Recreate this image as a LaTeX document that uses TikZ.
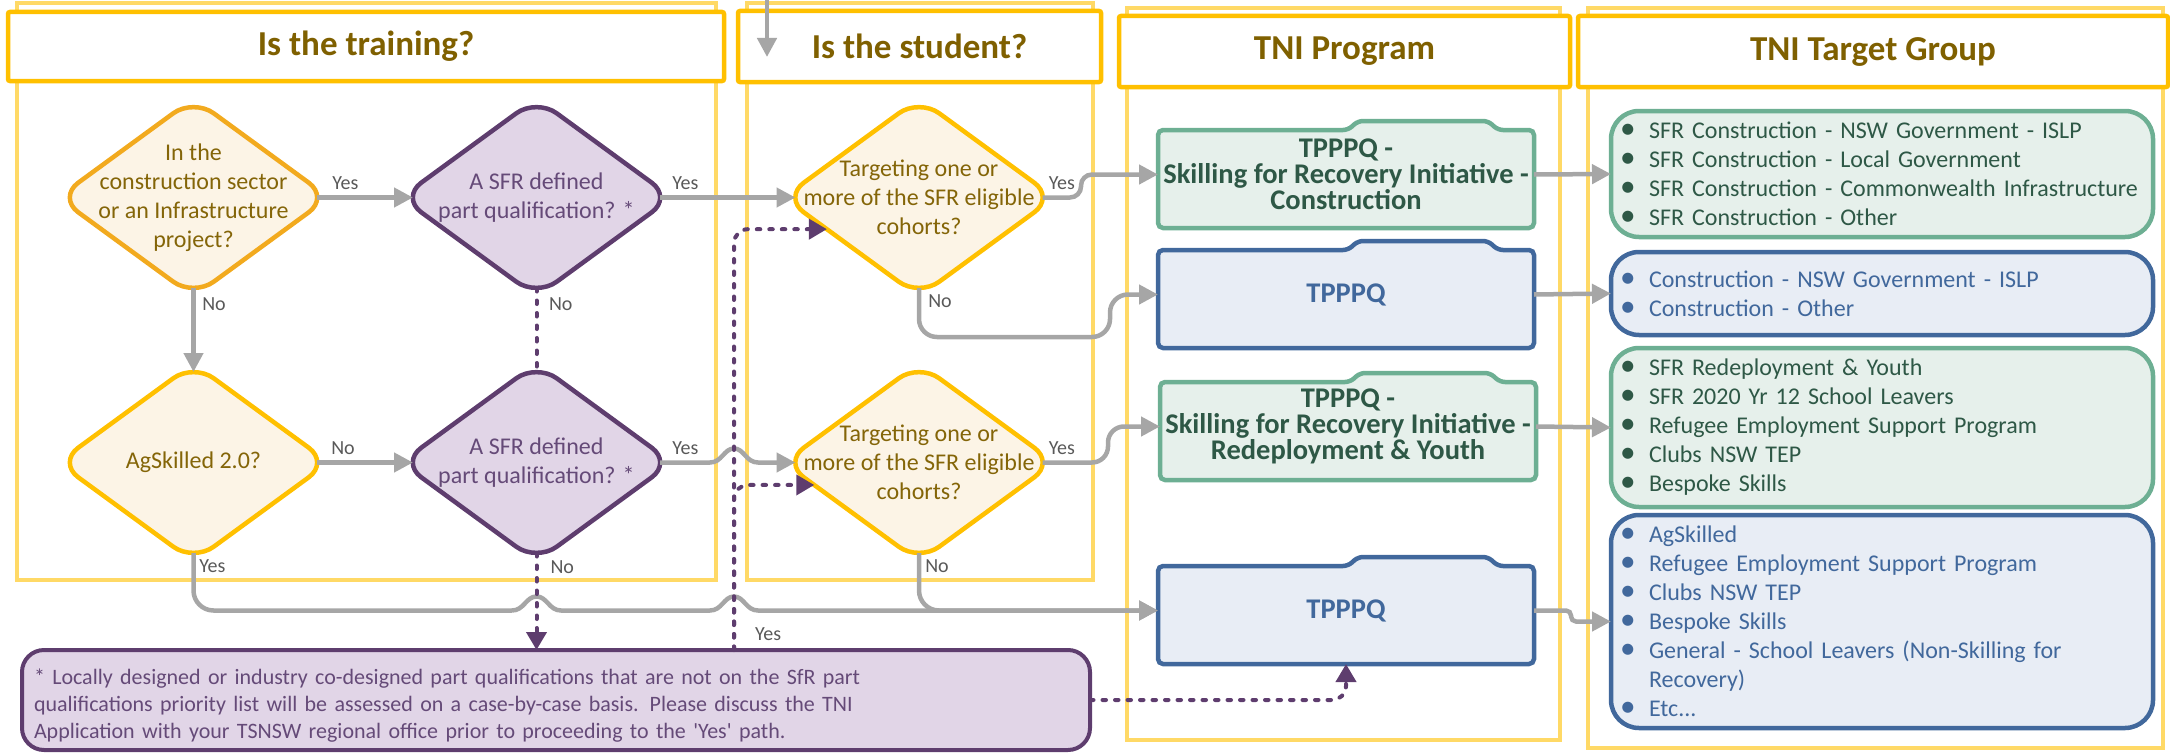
\documentclass[tikz,border=0pt]{standalone}
\usepackage{fontspec}
\setmainfont{Carlito}
\usepackage{graphicx}
\usetikzlibrary{shapes.geometric,arrows.meta,calc}
\pgfdeclarelayer{bg}
\pgfsetlayers{bg,main}
\definecolor{gold}{HTML}{FFC000}
\definecolor{lanegold}{HTML}{FFD966}
\definecolor{goldtxt}{HTML}{7F6000}
\definecolor{diatxt}{HTML}{846508}
\definecolor{orangeb}{HTML}{F2AA1E}
\definecolor{cream}{HTML}{FCF4E6}
\definecolor{purp}{HTML}{5E3D6E}
\definecolor{purpfill}{HTML}{E1D5E7}
\definecolor{purptxt}{HTML}{654A78}
\definecolor{grn}{HTML}{6DAF93}
\definecolor{grnfill}{HTML}{E6F0EB}
\definecolor{grntxt}{HTML}{2E5846}
\definecolor{blu}{HTML}{41689C}
\definecolor{blufill}{HTML}{E8EDF5}
\definecolor{conncol}{HTML}{A6A6A6}
\definecolor{lbltxt}{HTML}{595959}
\newcommand\hfnt{\fontsize{35}{40}\selectfont\bfseries}
\newcommand\dfnt{\fontsize{24}{29}\selectfont}
\newcommand\pfnt{\fontsize{28.5}{26}\selectfont\bfseries}
\newcommand\lfnt{\fontsize{20}{24}\selectfont}
\newcommand\nfnt{\fontsize{22}{27}\selectfont}
\newcommand\bul{\makebox[29pt][l]{\scalebox{1.3}{\textbullet}}}
\newcommand\folderbox[3]{\draw[fold, draw=#2, fill=#3] (#1.south west) -- ([yshift=-9pt]#1.north west) -- ([xshift=190pt,yshift=-9pt]#1.north west) -- ([xshift=200pt]#1.north west) -- ([xshift=-46pt]#1.north east) -- ([xshift=-36pt,yshift=-9pt]#1.north east) -- ([yshift=-9pt]#1.north east) -- (#1.south east) -- cycle;}
\tikzset{
  lane/.style={draw=lanegold, line width=4pt},
  hdr/.style={draw=gold, line width=4.5pt, fill=white, rounded corners=2pt, inner sep=0pt, outer sep=0pt, text=goldtxt, font=\hfnt},
  dia/.style={diamond, minimum width=271pt, minimum height=198pt, inner sep=0pt, outer sep=0pt, line width=4.5pt, rounded corners=25pt},
  ydia/.style={dia, draw=gold, fill=cream},
  odia/.style={dia, draw=orangeb, fill=cream},
  pdia/.style={dia, draw=purp, fill=purpfill},
  dtxt/.style={align=center, inner sep=0pt, font=\dfnt, text=diatxt},
  ptxt/.style={align=center, inner sep=0pt, font=\dfnt, text=purptxt},
  prog/.style={minimum width=376pt, minimum height=107pt, inner sep=0pt, outer sep=0pt, align=center, font=\pfnt},
  fold/.style={line width=4.5pt, rounded corners=5pt},
  tgt/.style={line width=4.5pt, rounded corners=28pt, minimum width=542pt, text width=524pt, inner xsep=9pt, inner ysep=0pt, outer sep=0pt, align=left, font=\dfnt},
  gtgt/.style={tgt, draw=grn, fill=grnfill, text=grntxt},
  btgt/.style={tgt, draw=blu, fill=blufill, text=blu},
  notebox/.style={draw=purp, fill=purpfill, line width=4pt, rounded corners=22pt, minimum width=1068pt, minimum height=100pt, text width=1044pt, inner xsep=12pt, inner ysep=0pt, outer sep=0pt, align=left, font=\nfnt, text=purptxt},
  conn/.style={draw=conncol, line width=4.5pt, rounded corners=16pt, -{Triangle[length=19pt,width=19pt]}},
  pdash/.style={draw=purp, line width=4pt, line cap=round, dash pattern=on 3.5pt off 9pt, rounded corners=14pt},
  parrow/.style={pdash, -{Triangle[length=18pt,width=20pt]}},
  lbl/.style={anchor=base west, inner sep=0pt, font=\lfnt, text=lbltxt},
}
\begin{document}
\begin{tikzpicture}[x=1pt,y=-1pt]
\useasboundingbox (0,0) rectangle (2170,752);
% lane bodies
\begin{pgfonlayer}{bg}
\draw[lane] (17,3) rectangle (716,580);
\draw[lane] (747,3) rectangle (1093,580);
\draw[lane] (1127,8) rectangle (1560,740);
\draw[lane] (1588,8) rectangle (2163,748);
\end{pgfonlayer}
% headers
\node[hdr, minimum width=716pt, minimum height=69pt] (h1) at (366,46.5) {Is the training?};
\node[hdr, minimum width=363pt, minimum height=71pt] (h2) at (919.5,46.5) {Is the student?};
\node[hdr, minimum width=451pt, minimum height=71pt] (h3) at (1344.5,51.5) {TNI Program};
\node[hdr, minimum width=590pt, minimum height=71pt] (h4) at (1873,51.5) {TNI Target Group};
% diamonds
\node[odia] (d1) at (193.5,197.5) {};
\node[dtxt] (d1t) at (d1.center) {In the\\construction sector\\or an Infrastructure\\project?};
\node[pdia] (d2) at (536.5,197.5) {};
\node[ptxt] (d2t) at (d2.center) {A SFR defined\\part qualification? *};
\node[ydia] (d3) at (193.5,462.5) {};
\node[dtxt] (d3t) at (d3.center) {AgSkilled 2.0?};
\node[pdia] (d4) at (536.5,462.5) {};
\node[ptxt] (d4t) at (d4.center) {A SFR defined\\part qualification? *};
\node[ydia] (d5) at (919,197.5) {};
\node[dtxt] (d5t) at (d5.center) {Targeting one or\\more of the SFR eligible\\cohorts?};
\node[ydia] (d6) at (919,462.5) {};
\node[dtxt] (d6t) at (d6.center) {Targeting one or\\more of the SFR eligible\\cohorts?};
% program boxes
\node[prog, text=grntxt] (p1) at (1346,174.5) {TPPPQ -\\Skilling for Recovery Initiative -\\Construction};
\node[prog, text=blu] (p2) at (1346,294.5) {TPPPQ};
\node[prog, text=grntxt] (p3) at (1348,426.5) {TPPPQ -\\Skilling for Recovery Initiative -\\Redeployment \& Youth};
\node[prog, text=blu] (p4) at (1346,610.5) {TPPPQ};
\begin{pgfonlayer}{bg}
\folderbox{p1}{grn}{grnfill}
\folderbox{p2}{blu}{blufill}
\folderbox{p3}{grn}{grnfill}
\folderbox{p4}{blu}{blufill}
\end{pgfonlayer}
% target groups
\node[gtgt, minimum height=126pt] (t1) at (1882,174) {\bul SFR Construction - NSW Government - ISLP\\\bul SFR Construction - Local Government\\\bul SFR Construction - Commonwealth Infrastructure\\\bul SFR Construction - Other};
\node[btgt, minimum height=83pt] (t2) at (1882,293.5) {\bul Construction - NSW Government - ISLP\\\bul Construction - Other};
\node[gtgt, minimum height=159pt] (t3) at (1882,427.5) {\bul SFR Redeployment \& Youth\\\bul SFR 2020 Yr 12 School Leavers\\\bul Refugee Employment Support Program\\\bul Clubs NSW TEP\\\bul Bespoke Skills};
\node[btgt, minimum height=213pt] (t4) at (1882,621.5) {\bul AgSkilled\\\bul Refugee Employment Support Program\\\bul Clubs NSW TEP\\\bul Bespoke Skills\\\bul General - School Leavers (Non-Skilling for\\\hspace*{29pt}Recovery)\\\bul Etc...};
% note
\node[notebox] (note) at (556,700) {\rule{0pt}{26pt}* Locally designed or industry co-designed part qualifications that are not on the SfR part\\qualifications priority list will be assessed on a case-by-case basis. Please discuss the TNI\\Application with your TSNSW regional office prior to proceeding to the \textquotesingle Yes\textquotesingle\ path.};
% top incoming arrow
\coordinate (topin) at (767,-3);
\coordinate (topout) at (767,57);
\draw[conn] (topin) -- (topout);
% gray connectors
\draw[conn] ([xshift=-12pt]d1.east) -- node[lbl,pos=0,xshift=13pt,yshift=8pt] (l1) {Yes} ([xshift=12pt]d2.west);
\draw[conn] ([xshift=-12pt]d2.east) -- node[lbl,pos=0,xshift=10pt,yshift=8pt] (l2) {Yes} ([xshift=12pt]d5.west);
\draw[conn] ([yshift=8.5pt]d1.south) -- node[lbl,pos=0,xshift=6.5pt,yshift=-22.5pt] (l3) {No} ([yshift=-8.5pt]d3.north);
\draw[conn] ([xshift=-12pt]d3.east) -- node[lbl,pos=0,xshift=12pt,yshift=8pt] (l5) {No} ([xshift=12pt]d4.west);
\draw[conn, sharp corners] ([xshift=-12pt]d4.east) -- node[lbl,pos=0,xshift=10pt,yshift=8pt] (l6) {Yes} (710,462.5) .. controls (722,462.5) and (724,448.5) .. (734,448.5) .. controls (744,448.5) and (746,462.5) .. (758,462.5) -- ([xshift=12pt]d6.west);
\draw[conn, rounded corners=11pt] ([xshift=-12pt]d5.east) -- node[lbl,pos=0,xshift=4pt,yshift=8pt] (l7) {Yes} (1081,197.5) -- (1081,174.5) -- (p1.west);
\draw[conn, rounded corners=18pt] ([yshift=8.5pt]d5.south) -- node[lbl,pos=0,xshift=7pt,yshift=-19.5pt] (l8) {No} (919,337) -- (1110,337) -- (1110,294.5) -- (p2.west);
\draw[conn] ([xshift=-12pt]d6.east) -- node[lbl,pos=0,xshift=4pt,yshift=8pt] (l9) {Yes} (1108,462.5) -- (1108,426.5) -- (p3.west);
\draw[conn, rounded corners=20pt] ([yshift=8.5pt]d6.south) -- node[lbl,pos=0,xshift=4pt,yshift=-19.5pt] (l10) {No} (d6.south |- p4.west) -- (p4.west);
\coordinate (hopstart) at (512,610.5);
\draw[conn, -, rounded corners=20pt] ([yshift=8.5pt]d3.south) -- node[lbl,pos=0,xshift=3.5pt,yshift=-19.5pt] (l11) {Yes} (d3.south |- p4.west) -- (hopstart);
\draw[conn, sharp corners] (hopstart) .. controls (524,610.5) and (526,596.5) .. (536.5,596.5) .. controls (547,596.5) and (549,610.5) .. (561,610.5) -- (710,610.5) .. controls (722,610.5) and (724,596.5) .. (734,596.5) .. controls (744,596.5) and (746,610.5) .. (758,610.5) -- (p4.west);
\draw[conn] (p1.east) -- (t1.west);
\draw[conn] (p2.east) -- (t2.west);
\draw[conn] (p3.east) -- (t3.west);
\draw[conn, rounded corners=5pt] (p4.east) -- (1571,610.5) -- (1571,621.5) -- (t4.west);
% purple dashed connectors
\draw[pdash] ([yshift=8.5pt]d2.south) -- node[lbl,pos=0,xshift=10.5pt,yshift=-22.5pt] (l4) {No} ([yshift=-8.5pt]d4.north);
\draw[parrow] ([yshift=8.5pt]d4.south) -- node[lbl,pos=0,xshift=12pt,yshift=-20.5pt] (l12) {No} (d4.south |- note.north);
\draw[parrow] ([xshift=178pt]note.north) |- node[lbl,pos=0,xshift=19pt,yshift=9.5pt] (l13) {Yes} ($(d5.west)!0.32!(d5.south)$);
\draw[parrow] ([xshift=178pt]note.north) |- ($(d6.west)!0.227!(d6.south)$);
\draw[parrow] (note.east) -| (p4.south);
\end{tikzpicture}
\end{document}
